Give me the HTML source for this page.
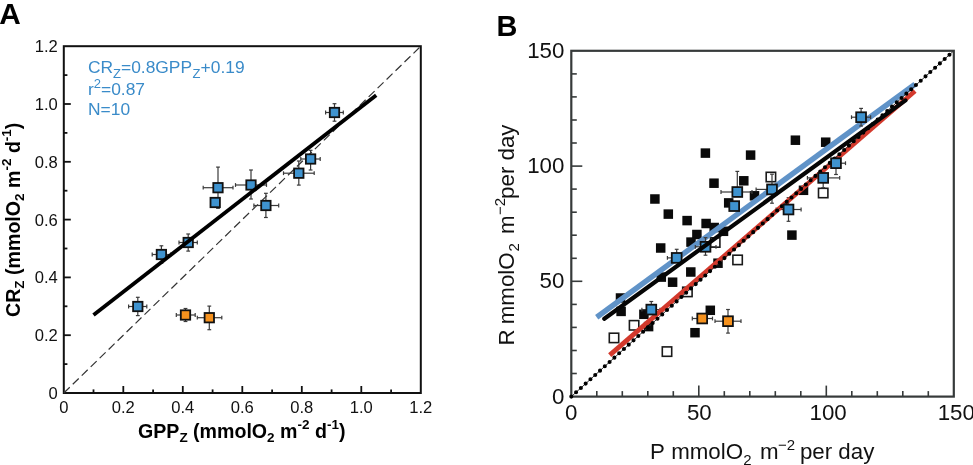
<!DOCTYPE html>
<html><head><meta charset="utf-8"><style>
html,body{margin:0;padding:0;background:#fff;}
body{width:973px;height:465px;overflow:hidden;}
svg{display:block;font-family:"Liberation Sans", sans-serif;will-change:transform;}
</style></head><body>
<svg width="973" height="465" viewBox="0 0 973 465" font-family='"Liberation Sans", sans-serif'>
<rect width="973" height="465" fill="#fff"/>
<text x="-0.8" y="23.6" font-size="29.8" font-weight="bold">A</text>
<rect x="63.8" y="46.2" width="357.0" height="346.8" fill="none" stroke="#111" stroke-width="2"/>
<g stroke="#111" stroke-width="1.8"><line x1="93.5" y1="393.0" x2="93.5" y2="389.4"/><line x1="63.8" y1="364.1" x2="67.39999999999999" y2="364.1"/><line x1="123.3" y1="393.0" x2="123.3" y2="386.0"/><line x1="63.8" y1="335.2" x2="70.8" y2="335.2"/><line x1="153.1" y1="393.0" x2="153.1" y2="389.4"/><line x1="63.8" y1="306.3" x2="67.39999999999999" y2="306.3"/><line x1="182.8" y1="393.0" x2="182.8" y2="386.0"/><line x1="63.8" y1="277.4" x2="70.8" y2="277.4"/><line x1="212.6" y1="393.0" x2="212.6" y2="389.4"/><line x1="63.8" y1="248.5" x2="67.39999999999999" y2="248.5"/><line x1="242.3" y1="393.0" x2="242.3" y2="386.0"/><line x1="63.8" y1="219.6" x2="70.8" y2="219.6"/><line x1="272.1" y1="393.0" x2="272.1" y2="389.4"/><line x1="63.8" y1="190.7" x2="67.39999999999999" y2="190.7"/><line x1="301.8" y1="393.0" x2="301.8" y2="386.0"/><line x1="63.8" y1="161.8" x2="70.8" y2="161.8"/><line x1="331.6" y1="393.0" x2="331.6" y2="389.4"/><line x1="63.8" y1="132.9" x2="67.39999999999999" y2="132.9"/><line x1="361.3" y1="393.0" x2="361.3" y2="386.0"/><line x1="63.8" y1="104.0" x2="70.8" y2="104.0"/><line x1="391.1" y1="393.0" x2="391.1" y2="389.4"/><line x1="63.8" y1="75.1" x2="67.39999999999999" y2="75.1"/></g>
<g font-size="16.6" fill="#111"><text x="63.8" y="413" text-anchor="middle">0</text><text x="57.8" y="399.0" text-anchor="end">0</text><text x="123.3" y="413" text-anchor="middle">0.2</text><text x="57.8" y="341.2" text-anchor="end">0.2</text><text x="182.8" y="413" text-anchor="middle">0.4</text><text x="57.8" y="283.4" text-anchor="end">0.4</text><text x="242.3" y="413" text-anchor="middle">0.6</text><text x="57.8" y="225.6" text-anchor="end">0.6</text><text x="301.8" y="413" text-anchor="middle">0.8</text><text x="57.8" y="167.8" text-anchor="end">0.8</text><text x="361.3" y="413" text-anchor="middle">1.0</text><text x="57.8" y="110.0" text-anchor="end">1.0</text><text x="420.8" y="413" text-anchor="middle">1.2</text><text x="57.8" y="52.2" text-anchor="end">1.2</text></g>
<text x="138" y="438.4" font-size="19.6" font-weight="bold">GPP<tspan font-size="13.5" dy="4">Z</tspan><tspan dy="-4"> (mmolO</tspan><tspan font-size="13.5" dy="4">2</tspan><tspan dy="-4"> m</tspan><tspan font-size="13.5" dy="-9">-2</tspan><tspan dy="9"> d</tspan><tspan font-size="13.5" dy="-9">-1</tspan><tspan dy="9">)</tspan></text>
<text transform="translate(20.3,317) rotate(-90)" x="0" y="0" font-size="19.6" font-weight="bold">CR<tspan font-size="13.5" dy="4">Z</tspan><tspan dy="-4"> (mmolO</tspan><tspan font-size="13.5" dy="4">2</tspan><tspan dy="-4"> m</tspan><tspan font-size="13.5" dy="-9">-2</tspan><tspan dy="9"> d</tspan><tspan font-size="13.5" dy="-9">-1</tspan><tspan dy="9">)</tspan></text>
<g font-size="17.4" fill="#3a8bc9"><text y="73.4"><tspan x="87.9">CR</tspan><tspan x="113" font-size="13" dy="4.3">Z</tspan><tspan x="121" dy="-4.3">=0.8GPP</tspan><tspan x="192.6" font-size="13" dy="4.3">Z</tspan><tspan x="200.6" dy="-4.3">+0.19</tspan></text><text x="88" y="94.8">r<tspan font-size="13" dy="-6.8">2</tspan><tspan dy="6.8">=0.87</tspan></text><text x="88" y="115.3">N=10</text></g>
<line x1="63.8" y1="393.0" x2="420.8" y2="46.2" stroke="#333" stroke-width="1.2" stroke-dasharray="8.3 4.2"/>
<g stroke="#3a3a3a" stroke-width="1.2"><line x1="137.8" y1="306.5" x2="128.6" y2="306.5"/><line x1="128.6" y1="304.6" x2="128.6" y2="308.4"/><line x1="137.8" y1="306.5" x2="146.8" y2="306.5"/><line x1="146.8" y1="304.6" x2="146.8" y2="308.4"/><line x1="137.8" y1="306.5" x2="137.8" y2="297.3"/><line x1="135.9" y1="297.3" x2="139.7" y2="297.3"/><line x1="137.8" y1="306.5" x2="137.8" y2="315.6"/><line x1="135.9" y1="315.6" x2="139.7" y2="315.6"/></g>
<g stroke="#3a3a3a" stroke-width="1.2"><line x1="161.4" y1="254.5" x2="152.2" y2="254.5"/><line x1="152.2" y1="252.6" x2="152.2" y2="256.4"/><line x1="161.4" y1="254.5" x2="170.6" y2="254.5"/><line x1="170.6" y1="252.6" x2="170.6" y2="256.4"/><line x1="161.4" y1="254.5" x2="161.4" y2="245.8"/><line x1="159.5" y1="245.8" x2="163.3" y2="245.8"/><line x1="161.4" y1="254.5" x2="161.4" y2="263.2"/><line x1="159.5" y1="263.2" x2="163.3" y2="263.2"/></g>
<g stroke="#3a3a3a" stroke-width="1.2"><line x1="188.2" y1="242.5" x2="179.0" y2="242.5"/><line x1="179.0" y1="240.6" x2="179.0" y2="244.4"/><line x1="188.2" y1="242.5" x2="197.3" y2="242.5"/><line x1="197.3" y1="240.6" x2="197.3" y2="244.4"/><line x1="188.2" y1="242.5" x2="188.2" y2="234.0"/><line x1="186.3" y1="234.0" x2="190.1" y2="234.0"/><line x1="188.2" y1="242.5" x2="188.2" y2="251.1"/><line x1="186.3" y1="251.1" x2="190.1" y2="251.1"/></g>
<g stroke="#3a3a3a" stroke-width="1.2"></g>
<g stroke="#3a3a3a" stroke-width="1.2"><line x1="218.0" y1="187.7" x2="203.2" y2="187.7"/><line x1="203.2" y1="185.8" x2="203.2" y2="189.6"/><line x1="218.0" y1="187.7" x2="233.0" y2="187.7"/><line x1="233.0" y1="185.8" x2="233.0" y2="189.6"/><line x1="218.0" y1="187.7" x2="218.0" y2="167.1"/><line x1="216.1" y1="167.1" x2="219.9" y2="167.1"/><line x1="218.0" y1="187.7" x2="218.0" y2="208.3"/><line x1="216.1" y1="208.3" x2="219.9" y2="208.3"/></g>
<g stroke="#3a3a3a" stroke-width="1.2"><line x1="251.0" y1="185.0" x2="235.5" y2="185.0"/><line x1="235.5" y1="183.1" x2="235.5" y2="186.9"/><line x1="251.0" y1="185.0" x2="266.5" y2="185.0"/><line x1="266.5" y1="183.1" x2="266.5" y2="186.9"/><line x1="251.0" y1="185.0" x2="251.0" y2="170.0"/><line x1="249.1" y1="170.0" x2="252.9" y2="170.0"/><line x1="251.0" y1="185.0" x2="251.0" y2="199.0"/><line x1="249.1" y1="199.0" x2="252.9" y2="199.0"/></g>
<g stroke="#3a3a3a" stroke-width="1.2"><line x1="265.9" y1="205.5" x2="253.9" y2="205.5"/><line x1="253.9" y1="203.6" x2="253.9" y2="207.4"/><line x1="265.9" y1="205.5" x2="278.7" y2="205.5"/><line x1="278.7" y1="203.6" x2="278.7" y2="207.4"/><line x1="265.9" y1="205.5" x2="265.9" y2="193.3"/><line x1="264.0" y1="193.3" x2="267.8" y2="193.3"/><line x1="265.9" y1="205.5" x2="265.9" y2="217.5"/><line x1="264.0" y1="217.5" x2="267.8" y2="217.5"/></g>
<g stroke="#3a3a3a" stroke-width="1.2"><line x1="298.8" y1="173.2" x2="283.5" y2="173.2"/><line x1="283.5" y1="171.3" x2="283.5" y2="175.1"/><line x1="298.8" y1="173.2" x2="314.2" y2="173.2"/><line x1="314.2" y1="171.3" x2="314.2" y2="175.1"/><line x1="298.8" y1="173.2" x2="298.8" y2="161.0"/><line x1="296.9" y1="161.0" x2="300.7" y2="161.0"/><line x1="298.8" y1="173.2" x2="298.8" y2="185.1"/><line x1="296.9" y1="185.1" x2="300.7" y2="185.1"/></g>
<g stroke="#3a3a3a" stroke-width="1.2"><line x1="310.6" y1="159.0" x2="300.8" y2="159.0"/><line x1="300.8" y1="157.1" x2="300.8" y2="160.9"/><line x1="310.6" y1="159.0" x2="320.2" y2="159.0"/><line x1="320.2" y1="157.1" x2="320.2" y2="160.9"/><line x1="310.6" y1="159.0" x2="310.6" y2="150.3"/><line x1="308.7" y1="150.3" x2="312.5" y2="150.3"/><line x1="310.6" y1="159.0" x2="310.6" y2="170.0"/><line x1="308.7" y1="170.0" x2="312.5" y2="170.0"/></g>
<g stroke="#3a3a3a" stroke-width="1.2"><line x1="334.5" y1="112.5" x2="325.6" y2="112.5"/><line x1="325.6" y1="110.6" x2="325.6" y2="114.4"/><line x1="334.5" y1="112.5" x2="343.3" y2="112.5"/><line x1="343.3" y1="110.6" x2="343.3" y2="114.4"/><line x1="334.5" y1="112.5" x2="334.5" y2="103.7"/><line x1="332.6" y1="103.7" x2="336.4" y2="103.7"/><line x1="334.5" y1="112.5" x2="334.5" y2="121.2"/><line x1="332.6" y1="121.2" x2="336.4" y2="121.2"/></g>
<g stroke="#3a3a3a" stroke-width="1.2"><line x1="185.5" y1="315.0" x2="176.3" y2="315.0"/><line x1="176.3" y1="313.1" x2="176.3" y2="316.9"/><line x1="185.5" y1="315.0" x2="195.2" y2="315.0"/><line x1="195.2" y1="313.1" x2="195.2" y2="316.9"/><line x1="185.5" y1="315.0" x2="185.5" y2="308.5"/><line x1="183.6" y1="308.5" x2="187.4" y2="308.5"/><line x1="185.5" y1="315.0" x2="185.5" y2="321.5"/><line x1="183.6" y1="321.5" x2="187.4" y2="321.5"/></g>
<g stroke="#3a3a3a" stroke-width="1.2"><line x1="209.3" y1="317.7" x2="197.3" y2="317.7"/><line x1="197.3" y1="315.8" x2="197.3" y2="319.6"/><line x1="209.3" y1="317.7" x2="221.8" y2="317.7"/><line x1="221.8" y1="315.8" x2="221.8" y2="319.6"/><line x1="209.3" y1="317.7" x2="209.3" y2="306.1"/><line x1="207.4" y1="306.1" x2="211.2" y2="306.1"/><line x1="209.3" y1="317.7" x2="209.3" y2="329.7"/><line x1="207.4" y1="329.7" x2="211.2" y2="329.7"/></g>
<rect x="133.10" y="301.80" width="9.40" height="9.40" fill="#3f93cf" stroke="#111" stroke-width="1.8"/>
<rect x="156.70" y="249.80" width="9.40" height="9.40" fill="#3f93cf" stroke="#111" stroke-width="1.8"/>
<rect x="183.50" y="237.80" width="9.40" height="9.40" fill="#3f93cf" stroke="#111" stroke-width="1.8"/>
<rect x="210.50" y="197.80" width="9.40" height="9.40" fill="#3f93cf" stroke="#111" stroke-width="1.8"/>
<rect x="213.30" y="183.00" width="9.40" height="9.40" fill="#3f93cf" stroke="#111" stroke-width="1.8"/>
<rect x="246.30" y="180.30" width="9.40" height="9.40" fill="#3f93cf" stroke="#111" stroke-width="1.8"/>
<rect x="261.20" y="200.80" width="9.40" height="9.40" fill="#3f93cf" stroke="#111" stroke-width="1.8"/>
<rect x="294.10" y="168.50" width="9.40" height="9.40" fill="#3f93cf" stroke="#111" stroke-width="1.8"/>
<rect x="305.90" y="154.30" width="9.40" height="9.40" fill="#3f93cf" stroke="#111" stroke-width="1.8"/>
<rect x="329.80" y="107.80" width="9.40" height="9.40" fill="#3f93cf" stroke="#111" stroke-width="1.8"/>
<rect x="180.80" y="310.30" width="9.40" height="9.40" fill="#f6921e" stroke="#111" stroke-width="1.8"/>
<rect x="204.60" y="313.00" width="9.40" height="9.40" fill="#f6921e" stroke="#111" stroke-width="1.8"/>
<line x1="93.5" y1="315.0" x2="376.2" y2="95.3" stroke="#000" stroke-width="3.8"/>
<text x="496.6" y="35.9" font-size="28.9" font-weight="bold">B</text>
<rect x="571.3" y="50.8" width="382.5" height="345.8" fill="none" stroke="#363a3a" stroke-width="2.2"/>
<g stroke="#363a3a" stroke-width="1.6"><line x1="596.8" y1="396.6" x2="596.8" y2="391.1"/><line x1="571.3" y1="373.5" x2="576.8" y2="373.5"/><line x1="622.3" y1="396.6" x2="622.3" y2="391.1"/><line x1="571.3" y1="350.5" x2="576.8" y2="350.5"/><line x1="647.8" y1="396.6" x2="647.8" y2="391.1"/><line x1="571.3" y1="327.4" x2="576.8" y2="327.4"/><line x1="673.3" y1="396.6" x2="673.3" y2="391.1"/><line x1="571.3" y1="304.4" x2="576.8" y2="304.4"/><line x1="698.8" y1="396.6" x2="698.8" y2="385.6"/><line x1="571.3" y1="281.3" x2="582.3" y2="281.3"/><line x1="724.3" y1="396.6" x2="724.3" y2="391.1"/><line x1="571.3" y1="258.3" x2="576.8" y2="258.3"/><line x1="749.8" y1="396.6" x2="749.8" y2="391.1"/><line x1="571.3" y1="235.2" x2="576.8" y2="235.2"/><line x1="775.3" y1="396.6" x2="775.3" y2="391.1"/><line x1="571.3" y1="212.2" x2="576.8" y2="212.2"/><line x1="800.8" y1="396.6" x2="800.8" y2="391.1"/><line x1="571.3" y1="189.1" x2="576.8" y2="189.1"/><line x1="826.3" y1="396.6" x2="826.3" y2="385.6"/><line x1="571.3" y1="166.1" x2="582.3" y2="166.1"/><line x1="851.8" y1="396.6" x2="851.8" y2="391.1"/><line x1="571.3" y1="143.0" x2="576.8" y2="143.0"/><line x1="877.3" y1="396.6" x2="877.3" y2="391.1"/><line x1="571.3" y1="120.0" x2="576.8" y2="120.0"/><line x1="902.8" y1="396.6" x2="902.8" y2="391.1"/><line x1="571.3" y1="96.9" x2="576.8" y2="96.9"/><line x1="928.3" y1="396.6" x2="928.3" y2="391.1"/><line x1="571.3" y1="73.9" x2="576.8" y2="73.9"/></g>
<g font-size="22.3" fill="#111"><text x="571.3" y="420" text-anchor="middle">0</text><text x="564.4" y="403.6" text-anchor="end">0</text><text x="699.3" y="420" text-anchor="middle">50</text><text x="564.4" y="288.3" text-anchor="end">50</text><text x="828.1" y="420" text-anchor="middle">100</text><text x="564.4" y="173.1" text-anchor="end">100</text><text x="956.3" y="420" text-anchor="middle">150</text><text x="564.4" y="57.8" text-anchor="end">150</text></g>
<g font-size="22.3" fill="#111"><text x="650" y="459.4">P</text><text x="671.15" y="459.4">mmolO</text><text x="743.35" y="464.8" font-size="15">2</text><text x="759.95" y="459.4">m</text><text x="777.95" y="450" font-size="15">&#8722;2</text><text x="799.93" y="459.4">per day</text></g>
<g transform="translate(514,345.5) rotate(-90)" font-size="22.3" fill="#111"><text x="0" y="0">R</text><text x="21.25" y="0">mmolO</text><text x="94.05" y="5.4" font-size="15">2</text><text x="111.55" y="0">m</text><text x="130.55" y="-9.4" font-size="15">&#8722;2</text><text x="146.63" y="0">per day</text></g>
<rect x="700.65" y="148.35" width="9.5" height="9.5" fill="#0a0a0a"/>
<rect x="745.85" y="150.35" width="9.5" height="9.5" fill="#0a0a0a"/>
<rect x="790.65" y="135.45" width="9.5" height="9.5" fill="#0a0a0a"/>
<rect x="820.95" y="137.45" width="9.5" height="9.5" fill="#0a0a0a"/>
<rect x="650.15" y="194.25" width="9.5" height="9.5" fill="#0a0a0a"/>
<rect x="663.55" y="209.35" width="9.5" height="9.5" fill="#0a0a0a"/>
<rect x="709.25" y="178.45" width="9.5" height="9.5" fill="#0a0a0a"/>
<rect x="739.05" y="176.05" width="9.5" height="9.5" fill="#0a0a0a"/>
<rect x="655.95" y="243.25" width="9.5" height="9.5" fill="#0a0a0a"/>
<rect x="682.35" y="215.85" width="9.5" height="9.5" fill="#0a0a0a"/>
<rect x="701.35" y="218.75" width="9.5" height="9.5" fill="#0a0a0a"/>
<rect x="692.15" y="229.75" width="9.5" height="9.5" fill="#0a0a0a"/>
<rect x="686.25" y="237.35" width="9.5" height="9.5" fill="#0a0a0a"/>
<rect x="718.75" y="226.55" width="9.5" height="9.5" fill="#0a0a0a"/>
<rect x="723.95" y="198.15" width="9.5" height="9.5" fill="#0a0a0a"/>
<rect x="749.75" y="191.05" width="9.5" height="9.5" fill="#0a0a0a"/>
<rect x="787.15" y="230.35" width="9.5" height="9.5" fill="#0a0a0a"/>
<rect x="798.75" y="185.55" width="9.5" height="9.5" fill="#0a0a0a"/>
<rect x="686.05" y="267.25" width="9.5" height="9.5" fill="#0a0a0a"/>
<rect x="667.85" y="277.45" width="9.5" height="9.5" fill="#0a0a0a"/>
<rect x="656.55" y="272.35" width="9.5" height="9.5" fill="#0a0a0a"/>
<rect x="713.25" y="258.45" width="9.5" height="9.5" fill="#0a0a0a"/>
<rect x="705.55" y="305.55" width="9.5" height="9.5" fill="#0a0a0a"/>
<rect x="690.25" y="327.95" width="9.5" height="9.5" fill="#0a0a0a"/>
<rect x="616.35" y="306.65" width="9.5" height="9.5" fill="#0a0a0a"/>
<rect x="639.15" y="309.55" width="9.5" height="9.5" fill="#0a0a0a"/>
<rect x="643.85" y="321.85" width="9.5" height="9.5" fill="#0a0a0a"/>
<rect x="615.75" y="293.25" width="9.5" height="9.5" fill="#0a0a0a"/>
<rect x="709.45" y="222.75" width="9.5" height="9.5" fill="#0a0a0a"/>
<rect x="609.30" y="333.20" width="9.40" height="9.40" fill="#fff" stroke="#1a1a1a" stroke-width="1.6"/>
<rect x="629.40" y="320.60" width="9.40" height="9.40" fill="#fff" stroke="#1a1a1a" stroke-width="1.6"/>
<rect x="662.30" y="346.90" width="9.40" height="9.40" fill="#fff" stroke="#1a1a1a" stroke-width="1.6"/>
<rect x="682.70" y="287.20" width="9.40" height="9.40" fill="#fff" stroke="#1a1a1a" stroke-width="1.6"/>
<rect x="710.50" y="237.80" width="9.40" height="9.40" fill="#fff" stroke="#1a1a1a" stroke-width="1.6"/>
<rect x="732.90" y="255.20" width="9.40" height="9.40" fill="#fff" stroke="#1a1a1a" stroke-width="1.6"/>
<rect x="766.20" y="172.30" width="9.40" height="9.40" fill="#fff" stroke="#1a1a1a" stroke-width="1.6"/>
<rect x="818.50" y="188.30" width="9.40" height="9.40" fill="#fff" stroke="#1a1a1a" stroke-width="1.6"/>
<line x1="596.7" y1="317.2" x2="915.0" y2="84.2" stroke="#6093c8" stroke-width="5.4" />
<g stroke="#3a3a3a" stroke-width="1.2"><line x1="651.3" y1="309.6" x2="641.9" y2="309.6"/><line x1="641.9" y1="307.7" x2="641.9" y2="311.5"/><line x1="651.3" y1="309.6" x2="660.0" y2="309.6"/><line x1="660.0" y1="307.7" x2="660.0" y2="311.5"/><line x1="651.3" y1="309.6" x2="651.3" y2="301.5"/><line x1="649.4" y1="301.5" x2="653.2" y2="301.5"/></g>
<g stroke="#3a3a3a" stroke-width="1.2"><line x1="676.7" y1="257.9" x2="667.4" y2="257.9"/><line x1="667.4" y1="256.0" x2="667.4" y2="259.8"/><line x1="676.7" y1="257.9" x2="676.7" y2="249.3"/><line x1="674.8" y1="249.3" x2="678.6" y2="249.3"/></g>
<g stroke="#3a3a3a" stroke-width="1.2"><line x1="705.5" y1="246.8" x2="695.3" y2="246.8"/><line x1="695.3" y1="244.9" x2="695.3" y2="248.7"/><line x1="705.5" y1="246.8" x2="716.0" y2="246.8"/><line x1="716.0" y1="244.9" x2="716.0" y2="248.7"/><line x1="705.5" y1="246.8" x2="705.5" y2="237.7"/><line x1="703.6" y1="237.7" x2="707.4" y2="237.7"/><line x1="705.5" y1="246.8" x2="705.5" y2="255.2"/><line x1="703.6" y1="255.2" x2="707.4" y2="255.2"/></g>
<g stroke="#3a3a3a" stroke-width="1.2"><line x1="737.3" y1="192.0" x2="721.0" y2="192.0"/><line x1="721.0" y1="190.1" x2="721.0" y2="193.9"/><line x1="737.3" y1="192.0" x2="752.0" y2="192.0"/><line x1="752.0" y1="190.1" x2="752.0" y2="193.9"/><line x1="737.3" y1="192.0" x2="737.3" y2="171.4"/><line x1="735.4" y1="171.4" x2="739.2" y2="171.4"/></g>
<g stroke="#3a3a3a" stroke-width="1.2"></g>
<g stroke="#3a3a3a" stroke-width="1.2"><line x1="772.0" y1="189.4" x2="756.1" y2="189.4"/><line x1="756.1" y1="187.5" x2="756.1" y2="191.3"/><line x1="772.0" y1="189.4" x2="772.0" y2="174.2"/><line x1="770.1" y1="174.2" x2="773.9" y2="174.2"/><line x1="772.0" y1="189.4" x2="772.0" y2="203.2"/><line x1="770.1" y1="203.2" x2="773.9" y2="203.2"/></g>
<g stroke="#3a3a3a" stroke-width="1.2"><line x1="788.5" y1="209.5" x2="776.1" y2="209.5"/><line x1="776.1" y1="207.6" x2="776.1" y2="211.4"/><line x1="788.5" y1="209.5" x2="801.1" y2="209.5"/><line x1="801.1" y1="207.6" x2="801.1" y2="211.4"/><line x1="788.5" y1="209.5" x2="788.5" y2="197.7"/><line x1="786.6" y1="197.7" x2="790.4" y2="197.7"/><line x1="788.5" y1="209.5" x2="788.5" y2="221.3"/><line x1="786.6" y1="221.3" x2="790.4" y2="221.3"/></g>
<g stroke="#3a3a3a" stroke-width="1.2"><line x1="823.2" y1="177.9" x2="807.4" y2="177.9"/><line x1="807.4" y1="176.0" x2="807.4" y2="179.8"/><line x1="823.2" y1="177.9" x2="839.7" y2="177.9"/><line x1="839.7" y1="176.0" x2="839.7" y2="179.8"/><line x1="823.2" y1="177.9" x2="823.2" y2="187.7"/><line x1="821.3" y1="187.7" x2="825.1" y2="187.7"/></g>
<g stroke="#3a3a3a" stroke-width="1.2"><line x1="836.0" y1="163.2" x2="845.5" y2="163.2"/><line x1="845.5" y1="161.3" x2="845.5" y2="165.1"/><line x1="836.0" y1="163.2" x2="836.0" y2="174.5"/><line x1="834.1" y1="174.5" x2="837.9" y2="174.5"/></g>
<g stroke="#3a3a3a" stroke-width="1.2"><line x1="861.1" y1="117.2" x2="851.5" y2="117.2"/><line x1="851.5" y1="115.3" x2="851.5" y2="119.1"/><line x1="861.1" y1="117.2" x2="870.6" y2="117.2"/><line x1="870.6" y1="115.3" x2="870.6" y2="119.1"/><line x1="861.1" y1="117.2" x2="861.1" y2="108.4"/><line x1="859.2" y1="108.4" x2="863.0" y2="108.4"/><line x1="861.1" y1="117.2" x2="861.1" y2="126.0"/><line x1="859.2" y1="126.0" x2="863.0" y2="126.0"/></g>
<g stroke="#3a3a3a" stroke-width="1.2"><line x1="702.2" y1="318.5" x2="692.3" y2="318.5"/><line x1="692.3" y1="316.6" x2="692.3" y2="320.4"/><line x1="702.2" y1="318.5" x2="712.5" y2="318.5"/><line x1="712.5" y1="316.6" x2="712.5" y2="320.4"/></g>
<g stroke="#3a3a3a" stroke-width="1.2"><line x1="728.0" y1="321.2" x2="715.0" y2="321.2"/><line x1="715.0" y1="319.3" x2="715.0" y2="323.1"/><line x1="728.0" y1="321.2" x2="741.0" y2="321.2"/><line x1="741.0" y1="319.3" x2="741.0" y2="323.1"/><line x1="728.0" y1="321.2" x2="728.0" y2="309.5"/><line x1="726.1" y1="309.5" x2="729.9" y2="309.5"/><line x1="728.0" y1="321.2" x2="728.0" y2="333.1"/><line x1="726.1" y1="333.1" x2="729.9" y2="333.1"/></g>
<line x1="609.7" y1="355.1" x2="915.0" y2="91.0" stroke="#d3392c" stroke-width="4.8" />
<line x1="571.3" y1="396.6" x2="953.8" y2="50.8" stroke="#333" stroke-width="1.0" />
<line x1="571.3" y1="396.6" x2="953.8" y2="50.8" stroke="#000" stroke-width="4.1" stroke-linecap="round" stroke-dasharray="0 6.453"/>
<rect x="646.40" y="304.70" width="9.80" height="9.80" fill="#3f93cf" stroke="#111" stroke-width="1.8"/>
<rect x="671.80" y="253.00" width="9.80" height="9.80" fill="#3f93cf" stroke="#111" stroke-width="1.8"/>
<rect x="700.60" y="241.90" width="9.80" height="9.80" fill="#3f93cf" stroke="#111" stroke-width="1.8"/>
<rect x="732.40" y="187.10" width="9.80" height="9.80" fill="#3f93cf" stroke="#111" stroke-width="1.8"/>
<rect x="729.30" y="201.20" width="9.80" height="9.80" fill="#3f93cf" stroke="#111" stroke-width="1.8"/>
<rect x="767.10" y="184.50" width="9.80" height="9.80" fill="#3f93cf" stroke="#111" stroke-width="1.8"/>
<rect x="783.60" y="204.60" width="9.80" height="9.80" fill="#3f93cf" stroke="#111" stroke-width="1.8"/>
<rect x="818.30" y="173.00" width="9.80" height="9.80" fill="#3f93cf" stroke="#111" stroke-width="1.8"/>
<rect x="831.10" y="158.30" width="9.80" height="9.80" fill="#3f93cf" stroke="#111" stroke-width="1.8"/>
<rect x="856.20" y="112.30" width="9.80" height="9.80" fill="#3f93cf" stroke="#111" stroke-width="1.8"/>
<rect x="697.30" y="313.60" width="9.80" height="9.80" fill="#f6921e" stroke="#111" stroke-width="1.8"/>
<rect x="723.10" y="316.30" width="9.80" height="9.80" fill="#f6921e" stroke="#111" stroke-width="1.8"/>
<line x1="604.3" y1="318.8" x2="905.5" y2="100.4" stroke="#050505" stroke-width="4.2" stroke-linecap="round"/>
</svg>
</body></html>
